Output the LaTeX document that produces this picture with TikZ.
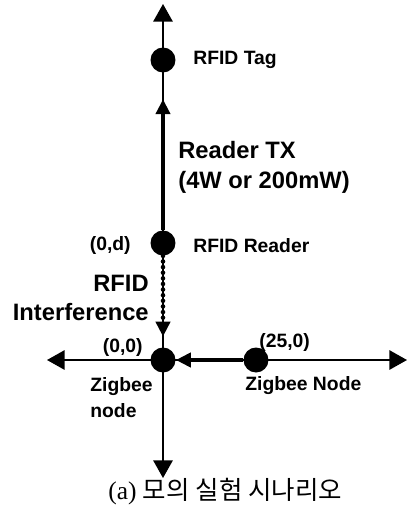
\documentclass[tikz,border=0pt]{standalone}
\usepackage{fontspec}
\setmainfont{Liberation Sans}
\newfontfamily\capfont{Liberation Serif}
\newfontfamily\kofont{Noto Sans CJK KR}
\usetikzlibrary{arrows.meta}

\begin{document}
\begin{tikzpicture}[
    x=0.02cm, y=-0.02cm,
    dot/.style={circle, fill=black, inner sep=0pt, minimum size=0.5cm},
    lbl/.style={font=\fontsize{11}{15}\selectfont\bfseries, inner sep=0pt},
    biglbl/.style={font=\fontsize{13.5}{17}\selectfont\bfseries, inner sep=0pt, align=left},
    axis/.style={line width=0.9pt, -{Triangle[length=10pt, width=11pt]}},
    sig/.style={line width=2.6pt, -{Triangle[length=8.5pt, width=8pt]}},
    dotsig/.style={line width=2.6pt, dash pattern=on 0pt off 3.2pt, line cap=round,
        -{Triangle[length=8.5pt, width=8pt]}}
]
\useasboundingbox (0,0) rectangle (407,524);

% axes
\coordinate (orig) at (163,360);
\coordinate (ytop) at (163,4);
\coordinate (ybot) at (163,478);
\coordinate (xleft) at (47,360);
\coordinate (xright) at (407,360);

\draw[axis] (orig) -- (ytop);
\draw[axis] (orig) -- (ybot);
\draw[axis] (orig) -- (xleft);
\draw[axis] (orig) -- (xright);

% nodes
\node[dot] (zig) at (orig) {};
\node[dot] (tag) at (163,60) {};
\node[dot] (reader) at (163,243) {};
\node[dot] (zig2) at (256,360) {};

% signals
\draw[sig, shorten >=15] (reader) -- (tag);
\draw[dotsig, shorten >=6] (reader) -- (zig);
\draw[sig] (zig2) -- (zig);

% labels
\node[lbl, anchor=west] (taglbl) at (193,60) {RFID Tag};
\node[biglbl, anchor=west] (txlbl) at (178,167) {Reader TX\\(4W or 200mW)};
\node[lbl, anchor=east] (dlbl) at (131,246) {(0,d)};
\node[lbl, anchor=west] (readerlbl) at (193,246) {RFID Reader};
\node[biglbl, anchor=east, align=right] (intflbl) at (149,298) {RFID\\Interference};
\node[lbl, anchor=east] (olbl) at (143,347) {(0,0)};
\node[lbl, anchor=west] (zlbl) at (259,342) {(25,0)};
\node[lbl, anchor=north west, align=left] (ziglbl) at (90,377) {Zigbee\\node};
\node[lbl, anchor=west] (zig2lbl) at (245,386) {Zigbee Node};

% caption
\node[inner sep=0pt, anchor=west] (cap) at (108,492)
    {\fontsize{14.5}{17}\selectfont\capfont (a)\ \kofont 모의 실험 시나리오};

\end{tikzpicture}
\end{document}
